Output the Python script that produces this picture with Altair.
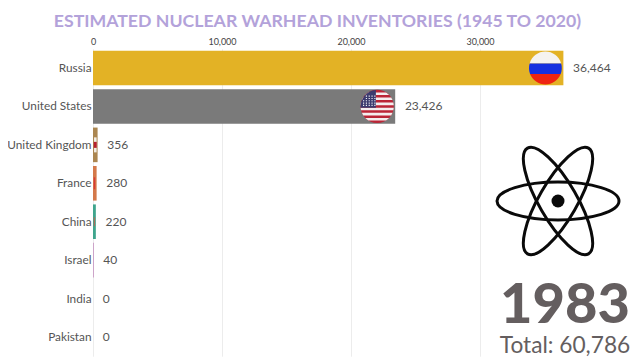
import math
import altair as alt
import pandas as pd

countries = ["Russia", "United States", "United Kingdom", "France", "China", "Israel", "India", "Pakistan"]
warheads = [36464, 23426, 356, 280, 220, 40, 0, 0]
bar_colors = ["#e3b225", "#7a7a7a", "#ab8650", "#d4794a", "#3fa58d", "#b060a8", "#e8e4ee", "#e8e4ee"]
title_text = "ESTIMATED NUCLEAR WARHEAD INVENTORIES (1945 TO 2020)"
year_text = "1983"
total_text = "Total: 60,786"
tick_values = [0, 10000, 20000, 30000]

# slivers of the flags still visible on the very short bars
sliver_country = ["United Kingdom", "United Kingdom", "France", "China"]
sliver_start = [80, 60, 60, 60]
sliver_end = [280, 290, 170, 160]
sliver_height = [15, 6, 12, 9]
sliver_color = ["#f2eee6", "#b5202c", "#d83a38", "#a8705c"]

FONT = "Lato"
ORIGIN_X, ORIGIN_Y = 93, 48.8
PX_PER_UNIT = 12.9 / 1000
W, H = 539, 307.4

df = pd.DataFrame({"country": countries, "value": warheads, "color": bar_colors})
slivers = pd.DataFrame({"country": sliver_country, "s": sliver_start, "e": sliver_end,
                        "h": sliver_height, "c": sliver_color})
one = pd.DataFrame({"a": [0]})

x_scale = alt.Scale(domain=[0, W / PX_PER_UNIT], nice=False, zero=True)
x_axis = alt.Axis(orient="top", values=tick_values, labelExpr="format(datum.value, ',')", domain=False, ticks=False,
                  labelFontSize=9, labelFont=FONT, labelColor="#444444", labelPadding=2,
                  gridColor="#ececec", gridWidth=1, grid=True, labelFlush=False)
x = alt.X("value:Q", title=None, scale=x_scale, axis=x_axis)
y = alt.Y("country:N", title=None, sort=countries,
          scale=alt.Scale(domain=countries, paddingInner=0.1, paddingOuter=0.05),
          axis=alt.Axis(domain=False, ticks=False, grid=False, labelFontSize=11.8, labelFont=FONT,
                        labelColor="#555555", labelPadding=2, labelLimit=200))


def band(y0, y1):
    xa, xb = math.sqrt(max(0, 1 - y0 * y0)), math.sqrt(max(0, 1 - y1 * y1))
    return (f"M {-xa:.4f} {y0:.4f} L {xa:.4f} {y0:.4f} A 1 1 0 0 1 {xb:.4f} {y1:.4f} "
            f"L {-xb:.4f} {y1:.4f} A 1 1 0 0 1 {-xa:.4f} {y0:.4f} Z ")


def canton(x1, y1):
    xl = -math.sqrt(1 - y1 * y1)
    yt = -math.sqrt(1 - x1 * x1)
    return f"M {xl:.4f} {y1:.4f} L {x1:.4f} {y1:.4f} L {x1:.4f} {yt:.4f} A 1 1 0 0 0 {xl:.4f} {y1:.4f} Z"


def dot(cx, cy, r=0.035):
    return f"M {cx - r:.3f} {cy - r:.3f} L {cx + r:.3f} {cy - r:.3f} L {cx + r:.3f} {cy + r:.3f} L {cx - r:.3f} {cy + r:.3f} Z "


def flag_part(name, path, fill, r=16.4, offset=-18):
    return alt.Chart(df[df.country == name]).mark_point(
        shape=path, size=(2 * r) ** 2, filled=True, fill=fill, opacity=1, strokeWidth=0, xOffset=offset
    ).encode(x=x, y=y)


CIRCLE = band(-1, 0) + band(0, 1)
ru = [
    flag_part("Russia", band(-1, -0.28), "#f5f3f0"),
    flag_part("Russia", band(-0.28, 0.36), "#1530e0"),
    flag_part("Russia", band(0.36, 1), "#ee2411"),
]
stripes = [(-1 + i * 2 / 13, -1 + (i + 1) * 2 / 13) for i in range(13)]
white_paths = "".join(band(a, b) for i, (a, b) in enumerate(stripes) if i % 2 == 1)
dots = "".join(dot(-0.82 + 0.17 * c, -0.62 + 0.14 * r)
               for r in range(5) for c in range(5)
               if (-0.82 + 0.17 * c) ** 2 + (-0.62 + 0.14 * r) ** 2 < 0.9)
us = [
    flag_part("United States", CIRCLE, "#bb2536", 16.6),
    flag_part("United States", white_paths, "#f4eeee", 16.6),
    flag_part("United States", canton(-0.08, 0.08), "#3c3b6e", 16.6),
    flag_part("United States", dots, "#f0f0f4", 16.6),
]

bars = alt.Chart(df).mark_bar(size=34.6).encode(x=x, y=y, color=alt.Color("color:N", scale=None, legend=None))
values = alt.Chart(df).mark_text(align="left", baseline="middle", dx=9.7, font=FONT, fontSize=12,
                                 color="#555555").encode(
    x=x, y=y, text=alt.Text("value:Q", format=","))
sliver_layers = [
    alt.Chart(slivers.iloc[[i]]).mark_bar(size=float(sliver_height[i]), color=sliver_color[i]).encode(
        x=alt.X("s:Q", scale=x_scale, title=None, axis=x_axis),
        x2="e:Q",
        y=y)
    for i in range(len(sliver_country))
]


def label(text, px, py, size, color, weight="normal", align="center"):
    return alt.Chart(one).mark_text(align=align, baseline="alphabetic", font=FONT, fontSize=size,
                                    fontWeight=weight, color=color).encode(
        x=alt.value(px - ORIGIN_X), y=alt.value(py - ORIGIN_Y), text=alt.value(text))


ELLIPSE = "M -1 0 A 1 0.31 0 1 0 1 0 A 1 0.31 0 1 0 -1 0 Z"
atom = [
    alt.Chart(one).mark_point(shape=ELLIPSE, size=122 ** 2, filled=False, stroke="#0a0a0a", strokeWidth=3,
                              opacity=1, angle=a).encode(
        x=alt.value(558 - ORIGIN_X), y=alt.value(201 - ORIGIN_Y))
    for a in (0, 60, 120)
] + [
    alt.Chart(one).mark_point(shape="circle", size=169, filled=True, fill="#0a0a0a", opacity=1, strokeWidth=0).encode(
        x=alt.value(558 - ORIGIN_X), y=alt.value(201 - ORIGIN_Y))
]

chart = alt.layer(
    bars, *sliver_layers, *ru, *us, values,
    label(title_text, 317.5, 26.5, 17.7, "#b3a2da", "bold"),
    *atom,
    label(year_text, 565, 322.7, 56, "#645e5f", 900),
    label(total_text, 565, 352.5, 22.7, "#645e5f"),
).properties(
    width=W, height=H,
    padding={"left": ORIGIN_X - 8, "top": ORIGIN_Y - 8, "right": 0, "bottom": 3.8},
    autosize=alt.AutoSizeParams(type="none"),
    background="white",
).configure_view(stroke=None)

chart.save("out.html", embed_options={"renderer": "svg", "actions": False})
